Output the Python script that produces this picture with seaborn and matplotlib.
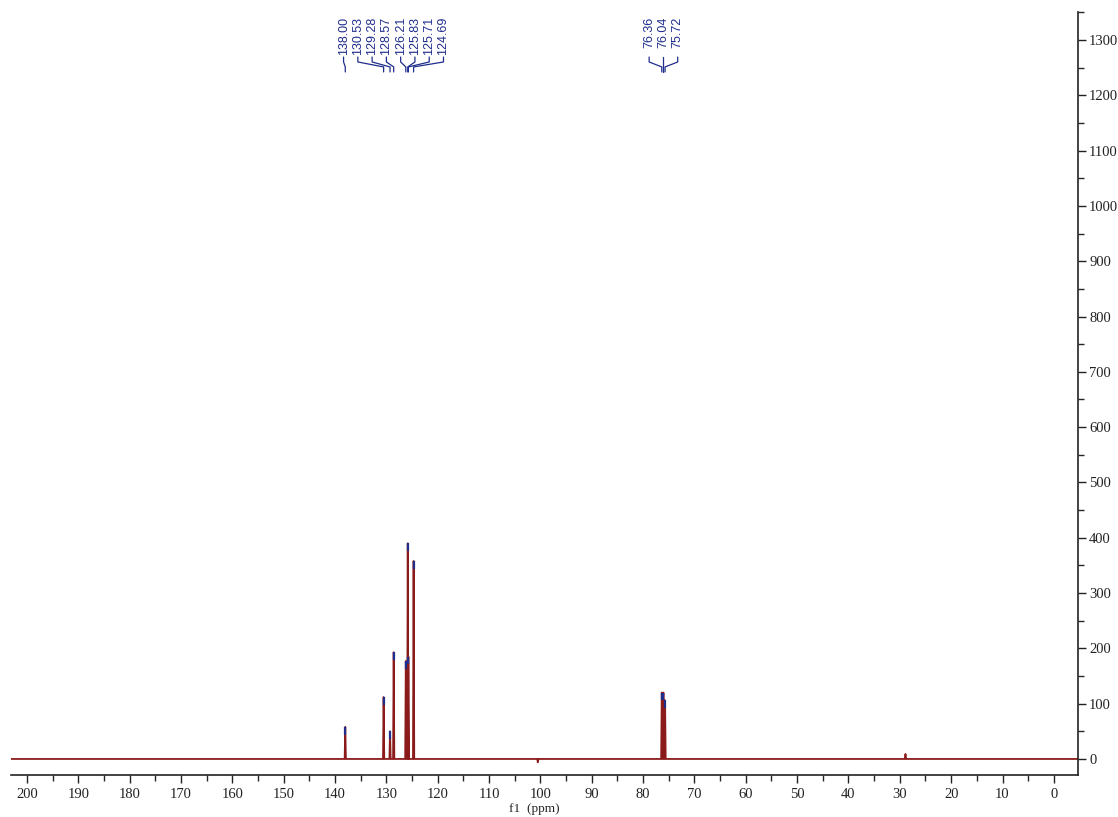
import matplotlib
matplotlib.use("Agg")
import matplotlib.pyplot as plt
import matplotlib.transforms as mtransforms
from matplotlib.ticker import MultipleLocator
import seaborn as sns
import pandas as pd

# 13C NMR peaks (ppm) and their heights
aromatic_shifts = [138.00, 130.53, 129.28, 128.57, 126.21, 125.83, 125.71, 124.69]
aromatic_heights = [58, 112, 50, 193, 177, 390, 185, 358]
solvent_shifts = [76.36, 76.04, 75.72]
solvent_heights = [120, 120, 106]
# small unlabelled features
extra_shifts = [100.5, 28.9]
extra_heights = [-6, 9]

sns.set_style("ticks")
plt.rcParams["font.family"] = ["Liberation Serif", "DejaVu Serif"]

RED = "#8b1a1a"
BLUE = "#1f2e8c"

# spectrum path: baseline with narrow peaks
all_peaks = sorted(zip(aromatic_shifts + solvent_shifts + extra_shifts,
                       aromatic_heights + solvent_heights + extra_heights),
                   reverse=True)
ppm, inten = [203.5], [0]
for s, h in all_peaks:
    ppm += [s + 0.12, s, s - 0.12]
    inten += [0, h, 0]
ppm.append(-5.0)
inten.append(0)
spec = pd.DataFrame({"ppm": ppm, "intensity": inten})

fig = plt.figure(figsize=(11.18, 8.17), dpi=100)
ax = fig.add_axes([11 / 1118, 42 / 817, 1067 / 1118, 763 / 817])

sns.lineplot(data=spec, x="ppm", y="intensity", sort=False, estimator=None,
             color=RED, lw=1.3, ax=ax)

# blue peak-pick marks at the top of each labelled peak
for shifts, heights in [(aromatic_shifts, aromatic_heights),
                        (solvent_shifts, solvent_heights)]:
    ax.vlines(shifts, [h - 14 for h in heights], heights, color=BLUE, lw=1.6)

ax.set_xlim(203.1, -4.7)
ax.set_ylim(-29, 1350.6)

# axis styling: x at bottom, y on the right
sns.despine(ax=ax, left=True, top=True, right=False)
ax.yaxis.tick_right()
ax.xaxis.set_major_locator(MultipleLocator(10))
ax.xaxis.set_minor_locator(MultipleLocator(5))
ax.yaxis.set_major_locator(MultipleLocator(100))
ax.yaxis.set_minor_locator(MultipleLocator(50))
ax.tick_params(which="major", direction="out", length=6, width=1,
               labelsize=10.5, colors="#222222")
ax.tick_params(which="minor", direction="out", length=4, width=1)
ax.tick_params(axis="y", pad=2)
ax.tick_params(axis="x", pad=3)
for sp in ["bottom", "right"]:
    ax.spines[sp].set_linewidth(1.2)
    ax.spines[sp].set_color("#222222")

ax.set_xlabel("f1  (ppm)", fontsize=9.5)
ax.xaxis.set_label_coords(0.49, -0.037)
ax.set_ylabel("")

# peak labels with connecting lines
trans = mtransforms.blended_transform_factory(ax.transData, ax.transAxes)
gap = 2.78
for shifts in [aromatic_shifts, solvent_shifts]:
    n = len(shifts)
    centre = sum(shifts) / n
    start = max(shifts[0], centre + (n - 1) / 2 * gap)
    for i, s in enumerate(shifts):
        lx = start - i * gap
        ax.text(lx, 0.9934, f"{s:.2f}", transform=trans, rotation=90,
                ha="center", va="top", fontsize=9, color=BLUE,
                family=["Liberation Sans", "DejaVu Sans"])
        ax.plot([lx, lx, s, s], [0.941, 0.9345, 0.928, 0.9214],
                transform=trans, color=BLUE, lw=0.9, clip_on=False)

fig.savefig("out.png", dpi=100)
